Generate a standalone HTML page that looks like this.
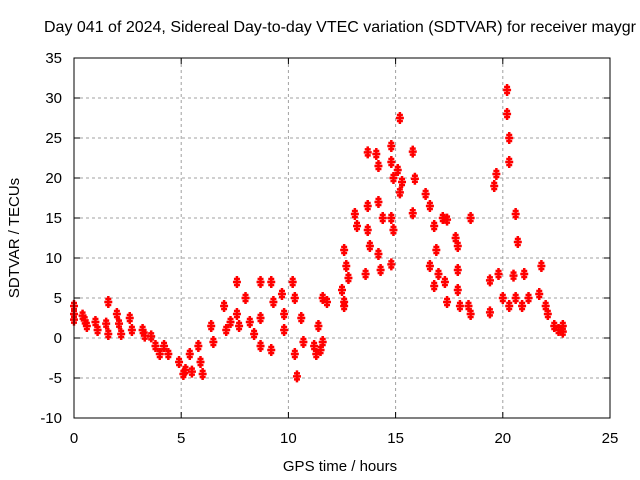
<!DOCTYPE html>
<html><head><meta charset="utf-8"><style>
body{margin:0;background:#fff;}
svg{display:block;font-family:"Liberation Sans",sans-serif;}
</style></head><body>
<svg id="chart" width="640" height="480" viewBox="0 0 640 480">
<rect width="640" height="480" fill="#fff"/>
<text x="44" y="32" font-size="16" fill="#000">Day 041 of 2024, Sidereal Day-to-day VTEC variation (SDTVAR) for receiver maygr</text>
<g id="grid"></g>
<g id="ticks"></g>
<g id="marks"></g>
<rect x="74" y="58" width="536" height="360" fill="none" stroke="#000" stroke-width="1"/>
<text transform="translate(19,238) rotate(-90)" text-anchor="middle" font-size="15">SDTVAR / TECUs</text>
<text x="340" y="471" text-anchor="middle" font-size="15">GPS time / hours</text>
</svg>
<script>
const xTicks=[0,5,10,15,20,25];
const yTicks=[-10,-5,0,5,10,15,20,25,30,35];
const hours=[0,0,0,0.4,0.5,0.6,1,1.1,1.6,1.5,1.6,2,2.1,2.2,2.6,2.7,3.2,3.3,3.6,3.8,4,4.2,4.4,4.9,5.1,5.2,5.4,5.5,5.8,5.9,6,6.4,6.5,7,7.1,7.3,7.6,7.6,7.7,8,8.2,8.4,8.7,8.7,8.7,9.2,9.3,9.2,9.7,9.8,9.8,10.2,10.3,10.3,10.4,10.6,10.7,11.2,11.3,11.5,11.4,11.6,11.6,11.8,12.5,12.6,12.6,12.6,12.7,12.8,13.1,13.2,13.6,13.7,13.7,13.7,13.8,14.1,14.2,14.2,14.3,14.2,14.4,14.8,14.8,14.9,14.8,14.9,14.8,15.1,15.3,15.2,15.2,15.8,15.9,15.8,16.4,16.6,16.8,16.6,16.8,16.9,17,17.2,17.4,17.3,17.4,17.8,17.9,17.9,17.9,18,18.5,18.4,18.5,19.4,19.4,19.7,19.6,20.2,20.2,20.3,20.3,19.8,20,20.3,20.6,20.7,20.5,20.6,20.9,21,21.2,21.8,21.7,22,22.1,22.4,22.6,22.8,22.8];
const values=[4,3,2.3,2.8,2.2,1.5,2,1,4.5,1.8,0.5,3,1.8,0.5,2.5,1,1,0.3,0.2,-1,-2,-1,-2,-3,-4.5,-4,-2,-4.2,-1,-3,-4.5,1.5,-0.5,4,1,2,7,3,1.5,5,2,0.5,7,2.5,-1,7,4.5,-1.5,5.5,3,1,7,5,-2,-4.8,2.5,-0.5,-1,-2,-1.5,1.5,-0.5,5,4.5,6,4.5,4,11,9,7.5,15.5,14,8,23.2,16.5,13.5,11.5,23,21.5,10.5,8.5,17,15,24,22,20,15,13.5,9.2,21,19.5,27.5,18.2,23.3,19.9,15.6,18,16.5,14,9,6.5,11,8,15,14.8,7,4.5,12.5,11.5,8.5,6,4,15,4,3,7.2,3.2,20.5,19,31,28,25,22,8,5,4,15.5,12,7.8,5,4,8,5,9,5.5,4,3,1.5,1,1.5,0.8];
const X0=74,X1=610,Y0=418,Y1=58;
const xs=h=>X0+(h-0)/(25-0)*(X1-X0);
const ys=v=>Y0-(v+10)/(35+10)*(Y0-Y1);
const NS='http://www.w3.org/2000/svg';
const grid=document.getElementById('grid'),ticks=document.getElementById('ticks'),marks=document.getElementById('marks');
function mk(tag,attrs,parent){const e=document.createElementNS(NS,tag);for(const k in attrs)e.setAttribute(k,attrs[k]);parent.appendChild(e);return e;}
xTicks.forEach(t=>{
  const x=xs(t);
  if(t>0&&t<25){const g=mk('line',{x1:x,y1:Y1,x2:x,y2:Y0,stroke:'#a0a0a0','stroke-dasharray':'3,3'},grid);
  
  }
  const l=mk('line',{x1:x,y1:Y0,x2:x,y2:Y0-6,stroke:'#000'},ticks);
  
  
  const l2=mk('line',{x1:x,y1:Y1,x2:x,y2:Y1+6,stroke:'#000'},ticks);
  
  
  const tx=mk('text',{x:x,y:443,'text-anchor':'middle','font-size':15},ticks);tx.textContent=t;
  
  
});
yTicks.forEach(t=>{
  const y=ys(t);
  if(t>-10&&t<35){const g=mk('line',{x1:X0,y1:y,x2:X1,y2:y,stroke:'#a0a0a0','stroke-dasharray':'3,3'},grid);
  
  }
  const l=mk('line',{x1:X0,y1:y,x2:X0+6,y2:y,stroke:'#000'},ticks);
  
  
  const l2=mk('line',{x1:X1,y1:y,x2:X1-6,y2:y,stroke:'#000'},ticks);
  
  
  const tx=mk('text',{x:62,y:y+5,'text-anchor':'end','font-size':15},ticks);tx.textContent=t;
  
  
});
hours.forEach((h,i)=>{
  const x=xs(h),y=ys(values[i]);
  const p=mk('path',{d:`M${x-4},${y}H${x+4}M${x},${y-6}V${y+6}M${x-3},${y-3}H${x+3}M${x-3},${y+3}H${x+3}`,stroke:'#ff0000','stroke-width':2.5,fill:'none'},marks);
  
  
});
</script>
</body></html>
